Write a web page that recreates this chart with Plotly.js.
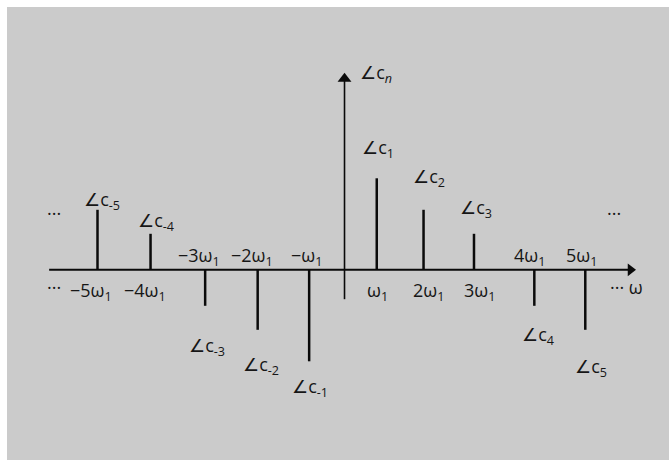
<!DOCTYPE html>
<html>
<head>
<meta charset="utf-8">
<script src="https://cdn.plot.ly/plotly-3.0.1.min.js"></script>
<style>
  html, body { margin: 0; padding: 0; background: #ffffff; }
  #chart { width: 669px; height: 460px; }
</style>
</head>
<body>
<div id="chart"></div>
<script>
// Two-sided phase spectrum of a real periodic signal: ∠c_n at harmonics n·ω1.
const harmonics = [-5, -4, -3, -2, -1, 1, 2, 3, 4, 5];
// horizontal placement of each harmonic line (in ω1 steps, schematic spacing)
const stemPos = [-4.75, -3.73, -2.68, -1.67, -0.68, 0.62, 1.52, 2.49, 3.65, 4.63];
// phase of each coefficient (odd symmetry: ∠c_-n = -∠c_n)
const phase = [2.0, 1.2, -1.2, -2.0, -3.05, 3.05, 2.0, 1.2, -1.2, -2.0];
const freqLabels = ['−5ω<sub>1</sub>', '−4ω<sub>1</sub>', '−3ω<sub>1</sub>', '−2ω<sub>1</sub>', '−ω<sub>1</sub>',
                    'ω<sub>1</sub>', '2ω<sub>1</sub>', '3ω<sub>1</sub>', '4ω<sub>1</sub>', '5ω<sub>1</sub>'];
const phaseLabels = ['∠c<sub>-5</sub>', '∠c<sub>-4</sub>', '∠c<sub>-3</sub>', '∠c<sub>-2</sub>', '∠c<sub>-1</sub>',
                     '∠c<sub>1</sub>', '∠c<sub>2</sub>', '∠c<sub>3</sub>', '∠c<sub>4</sub>', '∠c<sub>5</sub>'];

// --- drawing settings ---
const FONT = { family: 'Open Sans, DejaVu Sans, sans-serif', size: 18, color: '#161616' };
const INK = '#0a0a0a';
const axisX = { from: -5.68, arrow: 5.50 };
const axisY = { from: -0.98, arrow: 6.37 };
// pixel nudges for the labels [dx, dy] (dy positive = up)
const freqNudge = [[-7, 0], [-6, 0], [-6, 0], [-5.5, 0], [-3, 0], [1, 0], [5, 0], [6, 0], [-4.5, 0], [-3.5, 0]];
const phaseNudge = [[4, 9], [5, 12], [2, -41], [3, -36], [1, -26], [1, 30], [5, 32], [2, 25.5], [3.5, -30], [5.5, -38]];

// vertical lines from the axis to each phase value
const stemX = [], stemY = [];
harmonics.forEach((n, i) => {
  stemX.push(stemPos[i], stemPos[i], null);
  stemY.push(0, phase[i], null);
});

const traces = [
  { type: 'scatter', mode: 'lines', x: [axisX.from, axisX.arrow], y: [0, 0],
    line: { color: INK, width: 2 }, hoverinfo: 'skip' },
  { type: 'scatter', mode: 'markers', x: [axisX.arrow], y: [0],
    marker: { symbol: 'triangle-right', size: 11, color: INK }, hoverinfo: 'skip' },
  { type: 'scatter', mode: 'lines', x: [0, 0], y: [axisY.from, axisY.arrow],
    line: { color: INK, width: 1.6 }, hoverinfo: 'skip' },
  { type: 'scatter', mode: 'markers', x: [0], y: [axisY.arrow],
    marker: { symbol: 'triangle-up', size: 12, color: INK }, hoverinfo: 'skip' },
  { type: 'scatter', mode: 'lines', x: stemX, y: stemY,
    line: { color: INK, width: 2.5 }, hoverinfo: 'skip' }
];

const annotations = [];
harmonics.forEach((n, i) => {
  const up = phase[i] > 0;
  // frequency label sits on the opposite side of the axis from its line
  annotations.push({
    x: stemPos[i], y: 0, xref: 'x', yref: 'y', text: freqLabels[i], showarrow: false,
    xanchor: 'center', yanchor: 'middle', font: FONT,
    xshift: freqNudge[i][0], yshift: up ? -21.2 : 13.8
  });
  // phase label beyond the tip of the line
  annotations.push({
    x: stemPos[i], y: phase[i], xref: 'x', yref: 'y', text: phaseLabels[i], showarrow: false,
    xanchor: 'center', yanchor: 'middle', font: FONT,
    xshift: phaseNudge[i][0], yshift: phaseNudge[i][1]
  });
});
// axis names and continuation dots
annotations.push(
  { x: 0, y: axisY.arrow, xref: 'x', yref: 'y', text: '∠c<sub><i>n</i></sub>', showarrow: false,
    xanchor: 'center', yanchor: 'middle', font: FONT, xshift: 31, yshift: 5 },
  { x: axisX.from, y: 2.0, xref: 'x', yref: 'y', text: '···', showarrow: false,
    xanchor: 'center', yanchor: 'middle', font: FONT, xshift: 5, yshift: -3 },
  { x: axisX.from, y: 0, xref: 'x', yref: 'y', text: '···', showarrow: false,
    xanchor: 'center', yanchor: 'middle', font: FONT, xshift: 5, yshift: -17 },
  { x: axisX.arrow, y: 2.0, xref: 'x', yref: 'y', text: '···', showarrow: false,
    xanchor: 'center', yanchor: 'middle', font: FONT, xshift: -17, yshift: -3 },
  { x: axisX.arrow, y: 0, xref: 'x', yref: 'y', text: '··· ω', showarrow: false,
    xanchor: 'center', yanchor: 'middle', font: FONT, xshift: -4, yshift: -17 }
);

const layout = {
  width: 669, height: 460,
  margin: { l: 0, r: 0, t: 0, b: 0 },
  paper_bgcolor: '#ffffff', plot_bgcolor: 'rgba(0,0,0,0)',
  showlegend: false,
  xaxis: { range: [-6.625, 6.240], visible: false, fixedrange: true },
  yaxis: { range: [-6.34, 8.993], visible: false, fixedrange: true },
  shapes: [{ type: 'rect', xref: 'paper', yref: 'paper', x0: 7 / 669, x1: 1, y0: 0, y1: 1 - 7 / 460,
             fillcolor: 'rgb(203,203,203)', line: { width: 0 }, layer: 'below' }],
  annotations: annotations
};

Plotly.newPlot('chart', traces, layout, { staticPlot: true, displayModeBar: false });
</script>
</body>
</html>
